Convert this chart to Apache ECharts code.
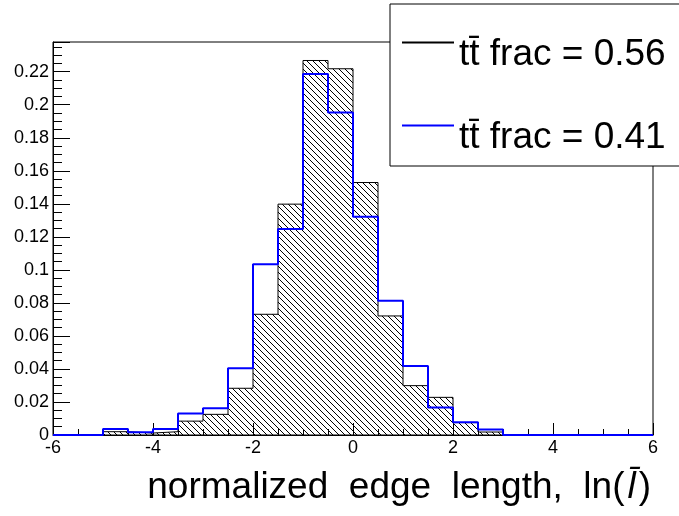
<!DOCTYPE html>
<html>
<head>
<meta charset="utf-8">
<title>normalized edge length</title>
<script src="https://cdn.jsdelivr.net/npm/echarts@6/dist/echarts.min.js"></script>
<style>
  html, body { margin: 0; padding: 0; background: #fff; }
  #chart { width: 679px; height: 516px; }
</style>
</head>
<body>
<div id="chart"></div>
<script>
// Bin edges of the histograms (24 bins of width 0.5 between -6 and 6)
const binEdges = [-6, -5.5, -5, -4.5, -4, -3.5, -3, -2.5, -2, -1.5, -1, -0.5,
                  0, 0.5, 1, 1.5, 2, 2.5, 3, 3.5, 4, 4.5, 5, 5.5, 6];

// Normalized bin contents, tt̄ fraction 0.56 (hatched)
const fracA = [0, 0, 0.0020, 0.0012, 0.0020, 0.0084, 0.0125, 0.0283, 0.0731, 0.1398, 0.2268, 0.2218,
               0.1529, 0.0721, 0.0299, 0.0228, 0.0075, 0.0018, 0, 0, 0, 0, 0, 0];

// Normalized bin contents, tt̄ fraction 0.41 (blue outline)
const fracB = [0, 0, 0.0036, 0.0017, 0.0036, 0.0130, 0.0162, 0.0404, 0.1034, 0.1248, 0.2186, 0.1953,
               0.1321, 0.0813, 0.0418, 0.0166, 0.0077, 0.0033, 0, 0, 0, 0, 0, 0];

const seriesNames = ['tt\u0304 frac = 0.56', 'tt\u0304 frac = 0.41'];
const xTitle = 'normalized  edge  length,  ln(';

const FONT = "'Liberation Sans', Arial, Helvetica, sans-serif";

// Step outline points: each bin starts at its lower edge, last point closes at the upper edge
function stepPoints(values) {
  const pts = values.map((v, i) => [binEdges[i], v]);
  pts.push([binEdges[binEdges.length - 1], values[values.length - 1]]);
  return pts;
}

// Diagonal "\" hatch tile
function hatchPattern(size) {
  const c = document.createElement('canvas');
  c.width = size; c.height = size;
  const ctx = c.getContext('2d');
  ctx.fillStyle = '#000';
  for (let i = 0; i < size; i++) ctx.fillRect(i, i, 1, 1);
  return c;
}

const chart = echarts.init(document.getElementById('chart'), null, { renderer: 'canvas' });

chart.setOption({
  animation: false,
  backgroundColor: '#fff',
  textStyle: { fontFamily: FONT },
  grid: {
    left: 53, right: 26, top: 42, bottom: 81,
    show: true, borderColor: '#000', borderWidth: 1, backgroundColor: 'transparent'
  },
  title: {
    text: '{n|' + xTitle + '}{i|l\u0304}{n|)}',
    right: 28, top: 469, padding: 0,
    textStyle: {
      fontWeight: 'normal',
      rich: {
        n: { fontSize: 37, lineHeight: 37, color: '#000', fontFamily: FONT, fontWeight: 'normal' },
        i: { fontSize: 37, lineHeight: 37, color: '#000', fontFamily: FONT, fontWeight: 'normal',
             fontStyle: 'italic', padding: [0, 3, 0, 3] }
      }
    }
  },
  legend: {
    orient: 'vertical',
    left: 390, top: 4,
    padding: [8, 40, 10, 11],
    itemWidth: 52, itemHeight: 2, itemGap: 22,
    borderColor: '#000', borderWidth: 1, backgroundColor: '#fff',
    selectedMode: false,
    itemStyle: { opacity: 0 },
    formatter: function (name) { return '{t|' + name + '}'; },
    textStyle: {
      color: '#000', fontFamily: FONT,
      rich: { t: { fontSize: 37, lineHeight: 37, color: '#000', fontFamily: FONT, padding: [24, 0, 0, 0] } }
    },
    data: seriesNames
  },
  xAxis: {
    type: 'value', min: -6, max: 6, interval: 2,
    axisLine: { show: true, onZero: false, lineStyle: { color: '#000', width: 1 } },
    axisTick: { show: true, inside: true, length: 12, lineStyle: { color: '#000' } },
    minorTick: { show: true, splitNumber: 4, length: 6, lineStyle: { color: '#000' } },
    splitLine: { show: false },
    axisLabel: { color: '#000', fontSize: 18, fontFamily: FONT, margin: 4 }
  },
  yAxis: {
    type: 'value', min: 0, max: 0.238, interval: 0.02,
    axisLine: { show: true, onZero: false, lineStyle: { color: '#000', width: 1 } },
    axisTick: { show: true, inside: true, length: 17, lineStyle: { color: '#000' } },
    minorTick: { show: true, splitNumber: 4, length: 9, lineStyle: { color: '#000' } },
    splitLine: { show: false },
    axisLabel: {
      color: '#000', fontSize: 18, fontFamily: FONT, margin: 4,
      formatter: function (v) {
        const k = v / 0.02;
        if (Math.abs(k - Math.round(k)) > 1e-6) return '';
        return String(parseFloat(v.toFixed(2)));
      }
    }
  },
  series: [
    {
      name: seriesNames[0],
      type: 'line',
      step: 'end',
      symbol: 'none',
      data: stepPoints(fracA),
      lineStyle: { color: '#000', width: 1 },
      itemStyle: { color: '#000' },
      areaStyle: { color: { image: hatchPattern(6), repeat: 'repeat' }, opacity: 1 },
      z: 2
    },
    {
      name: seriesNames[1],
      type: 'line',
      step: 'end',
      symbol: 'none',
      data: stepPoints(fracB),
      lineStyle: { color: '#0000ff', width: 2 },
      itemStyle: { color: '#0000ff' },
      z: 3
    }
  ]
});
</script>
</body>
</html>
